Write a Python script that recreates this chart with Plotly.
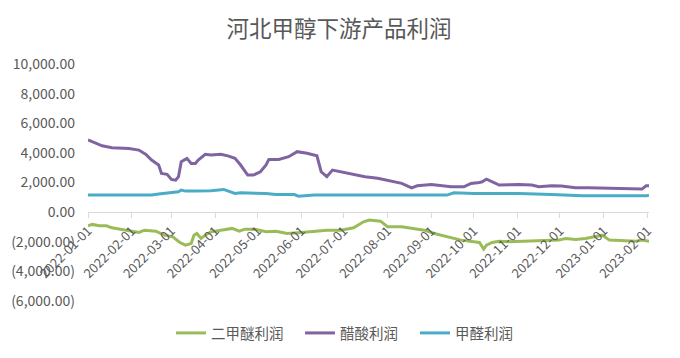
import plotly.graph_objects as go

# 二甲醚利润 (DME profit)
dme_dates = ["2022-01-01","2022-01-04","2022-01-09","2022-01-14","2022-01-18","2022-01-25","2022-02-01",
             "2022-02-06","2022-02-10","2022-02-18","2022-02-24","2022-03-02","2022-03-07","2022-03-11",
             "2022-03-15","2022-03-17","2022-03-19","2022-03-22","2022-03-25","2022-03-29","2022-04-05",
             "2022-04-13","2022-04-18","2022-04-22","2022-04-29","2022-05-07","2022-05-14","2022-05-22",
             "2022-06-01","2022-06-10","2022-06-19","2022-06-29","2022-07-08","2022-07-15","2022-07-19",
             "2022-07-27","2022-08-01","2022-08-11","2022-08-20","2022-08-27","2022-09-03","2022-09-12",
             "2022-09-22","2022-10-01","2022-10-05","2022-10-08","2022-10-10","2022-10-14","2022-10-19",
             "2022-10-26","2022-11-07","2022-11-21","2022-11-30","2022-12-05","2022-12-12","2022-12-19",
             "2022-12-26","2022-12-31","2023-01-05","2023-01-17","2023-01-24","2023-01-28","2023-02-02"]
dme_values = [-925,-830,-925,-925,-1060,-1150,-1285,
              -1375,-1220,-1285,-1555,-1670,-2050,-2230,
              -2120,-1555,-1440,-1780,-1555,-1330,-1220,
              -1100,-1285,-1150,-1150,-1330,-1285,-1440,
              -1375,-1285,-1220,-1220,-1060,-655,-540,
              -610,-990,-990,-1100,-1220,-1440,-1670,
              -1890,-2000,-2050,-2500,-2230,-2050,-1960,
              -2000,-1960,-1960,-1890,-1780,-1850,-1780,
              -1670,-1555,-1890,-1960,-1960,-1890,-1960]

# 醋酸利润 (acetic acid profit)
acetic_dates = ["2022-01-01","2022-01-04","2022-01-11","2022-01-18","2022-01-30","2022-02-06","2022-02-11",
                "2022-02-15","2022-02-20","2022-02-22","2022-02-26","2022-03-01","2022-03-04","2022-03-06",
                "2022-03-08","2022-03-12","2022-03-15","2022-03-18","2022-03-20","2022-03-25","2022-03-29",
                "2022-04-05","2022-04-10","2022-04-15","2022-04-19","2022-04-24","2022-04-28","2022-05-03",
                "2022-05-07","2022-05-09","2022-05-16","2022-05-23","2022-05-29","2022-06-05","2022-06-12",
                "2022-06-15","2022-06-19","2022-06-23","2022-06-29","2022-07-06","2022-07-16","2022-07-25",
                "2022-08-04","2022-08-11","2022-08-18","2022-08-22","2022-09-01","2022-09-08","2022-09-15",
                "2022-09-24","2022-09-29","2022-10-05","2022-10-07","2022-10-10","2022-10-13","2022-10-19",
                "2022-11-02","2022-11-11","2022-11-16","2022-11-25","2022-12-02","2022-12-12","2022-12-21",
                "2023-01-05","2023-01-10","2023-01-28","2023-01-31","2023-02-02"]
acetic_values = [4870,4750,4480,4350,4300,4190,3900,
                 3515,3180,2615,2550,2210,2160,2390,
                 3400,3630,3290,3290,3515,3900,3860,
                 3900,3800,3630,3180,2500,2500,2725,
                 3180,3560,3560,3740,4080,3970,3800,
                 2725,2390,2840,2725,2550,2390,2280,
                 2100,1940,1640,1780,1870,1780,1710,
                 1710,1940,2000,2050,2230,2100,1825,
                 1870,1825,1710,1780,1760,1640,1640,
                 1600,1555,1555,1780,1780]

# 甲醛利润 (formaldehyde profit)
form_dates = ["2022-01-01","2022-02-15","2022-02-20","2022-02-27","2022-03-06","2022-03-08","2022-03-11",
              "2022-03-18","2022-03-29","2022-04-07","2022-04-10","2022-04-15","2022-04-19","2022-04-29",
              "2022-05-07","2022-05-14","2022-05-27","2022-05-30","2022-06-10","2022-09-12","2022-09-17",
              "2022-10-01","2022-10-21","2022-10-28","2022-11-02","2022-11-25","2022-12-17","2023-01-31",
              "2023-02-02"]
form_values = [1150,1150,1220,1300,1370,1490,1420,
               1420,1450,1530,1420,1260,1300,1300,
               1260,1190,1190,1080,1150,1150,1300,
               1260,1260,1220,1260,1190,1100,1100,
               1150]

series_names = ["二甲醚利润", "醋酸利润", "甲醛利润"]
series_colors = ["#9BBB59", "#8064A2", "#4BACC6"]

y_tickvals = [-6000, -4000, -2000, 0, 2000, 4000, 6000, 8000, 10000]
y_ticktext = ["(6,000.00)", "(4,000.00)", "(2,000.00)", "0.00", "2,000.00",
              "4,000.00", "6,000.00", "8,000.00", "10,000.00"]

title_text = "河北甲醇下游产品利润"

FONT = "Noto Sans CJK SC, sans-serif"
GRAY = "#595959"
W, H = 680, 358
OFF = 8  # default page body margin

fig = go.Figure()
legend_ids = ["legend", "legend2", "legend3"]
legend_left = [171, 300, 415]  # page px where each legend box starts (before offset)
for name, xs, ys, col, lg in zip(series_names,
                                 [dme_dates, acetic_dates, form_dates],
                                 [dme_values, acetic_values, form_values],
                                 series_colors, legend_ids):
    fig.add_trace(go.Scatter(x=xs, y=ys, mode="lines", name=name, legend=lg,
                             line=dict(color=col, width=3)))

legend_common = dict(orientation="h", xref="container", yref="container",
                     xanchor="left", yanchor="middle", y=1-(333-OFF)/H,
                     font=dict(size=14.5, color=GRAY, family=FONT),
                     bgcolor="rgba(0,0,0,0)", borderwidth=0)

left_m = 88 - OFF
top_m = 64 - OFF
plot_w = 561.4
plot_h = 237

fig.update_layout(
    width=W, height=H,
    margin=dict(l=left_m, r=W-left_m-plot_w, t=top_m, b=H-top_m-plot_h, pad=0, autoexpand=False),
    paper_bgcolor="white", plot_bgcolor="white",
    font=dict(family=FONT, color=GRAY, size=12),
    title=dict(text=title_text, x=(339-OFF)/W, xref="container", xanchor="center",
               y=1-(29-OFF)/H, yref="container", yanchor="middle", automargin=False,
               font=dict(size=22.5, color=GRAY, family=FONT)),
    showlegend=True,
    legend=dict(legend_common, x=(legend_left[0]-OFF)/W),
    legend2=dict(legend_common, x=(legend_left[1]-OFF)/W),
    legend3=dict(legend_common, x=(legend_left[2]-OFF)/W),
    xaxis=dict(type="date", range=["2022-01-01", "2023-02-02"],
               anchor="free", position=0.375, automargin=False,
               tick0="2022-01-01", dtick="M1", tickformat="%Y-%m-%d",
               tickangle=-45, ticks="outside", ticklen=5, tickcolor="#d9d9d9",
               showline=True, linecolor="#d9d9d9", linewidth=1,
               showgrid=False, zeroline=False,
               tickfont=dict(size=13, color=GRAY, family=FONT)),
    yaxis=dict(range=[-6000, 10000], tickvals=y_tickvals, ticktext=y_ticktext,
               showgrid=False, zeroline=False, showline=False, ticks="",
               ticklabelstandoff=12, automargin=False,
               tickfont=dict(size=14, color=GRAY, family=FONT)),
)

fig.write_html("out.html")
